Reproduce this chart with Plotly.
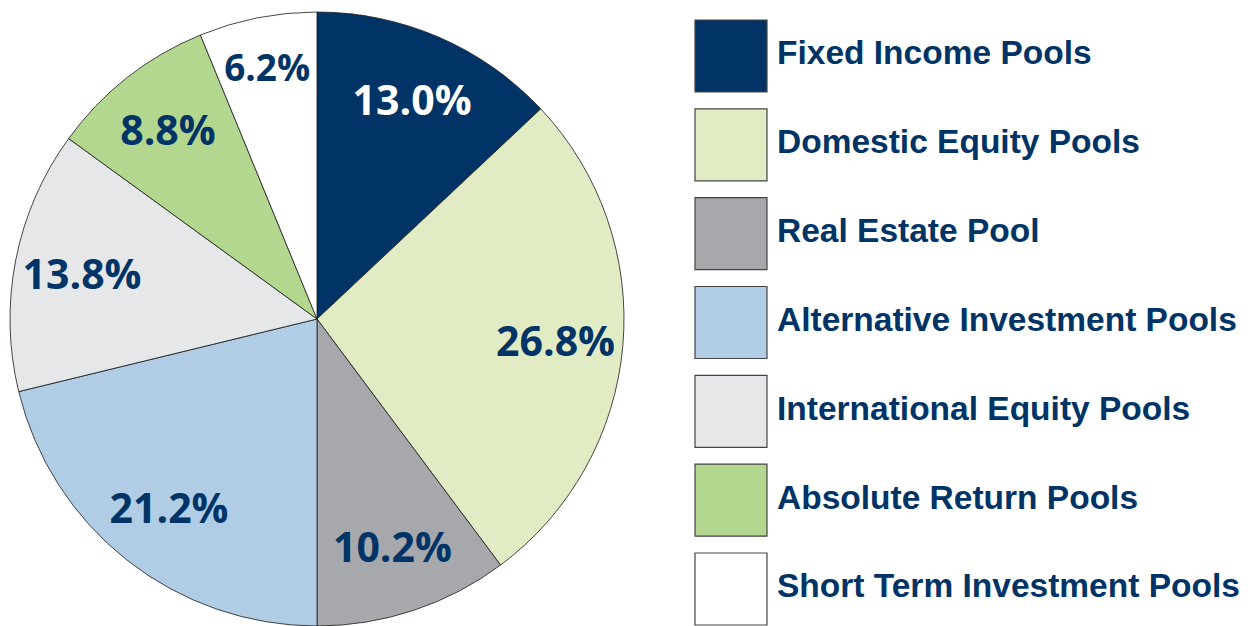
import plotly.graph_objects as go

categories = [
    "Fixed Income Pools",
    "Domestic Equity Pools",
    "Real Estate Pool",
    "Alternative Investment Pools",
    "International Equity Pools",
    "Absolute Return Pools",
    "Short Term Investment Pools",
]
shares = [13.0, 26.8, 10.2, 21.2, 13.8, 8.8, 6.2]
colors = ["#003466", "#E1ECC5", "#A7A8AB", "#B1CDE5", "#E6E7E8", "#B3D78E", "#FFFFFF"]
label_colors = ["#FFFFFF", "#003466", "#003466", "#003466", "#003466", "#003466", "#003466"]

W, H = 1252, 626
navy = "#003466"
pie_domain = dict(x=[0 / W, 618 / W], y=[8 / H, 1 - 4 / H])

fig = go.Figure()

# Filled pie slices
fig.add_trace(go.Pie(
    values=shares,
    labels=categories,
    sort=False,
    direction="clockwise",
    rotation=0,
    marker=dict(colors=colors, line=dict(color="#1a1a1a", width=0.8)),
    textinfo="none",
    domain=pie_domain,
    showlegend=False,
    hoverinfo="label+percent",
))

# Transparent ring carrying the percentage labels (places them toward the rim)
fig.add_trace(go.Pie(
    values=shares,
    labels=categories,
    sort=False,
    direction="clockwise",
    rotation=0,
    hole=0.56,
    marker=dict(colors=["rgba(0,0,0,0)"] * len(shares), line=dict(width=0)),
    texttemplate="%{value:.1f}%",
    textposition="inside",
    insidetextorientation="horizontal",
    insidetextfont=dict(family="Open Sans", size=41, weight="bold", color=label_colors),
    domain=pie_domain,
    showlegend=False,
    hoverinfo="skip",
))

idx = list(range(len(categories)))
fig.add_trace(go.Scatter(
    x=[0] * len(categories),
    y=idx,
    mode="markers+text",
    marker=dict(symbol="square", size=72, color=colors, line=dict(color="#444444", width=1.2)),
    text=categories,
    textposition="middle right",
    textfont=dict(family="Liberation Sans", size=33.5, weight="bold", color=navy),
    showlegend=False,
    hoverinfo="text",
    cliponaxis=False,
    xaxis="x",
    yaxis="y",
))

fig.update_layout(
    width=W,
    height=H,
    margin=dict(l=0, r=0, t=0, b=0),
    paper_bgcolor="white",
    plot_bgcolor="white",
    xaxis=dict(domain=[0.5, 1], range=[-1, 5.454], visible=False, fixedrange=True),
    yaxis=dict(domain=[0, 1], range=[6.5066, -0.5404], visible=False, fixedrange=True),
)

fig.write_html("out.html")
